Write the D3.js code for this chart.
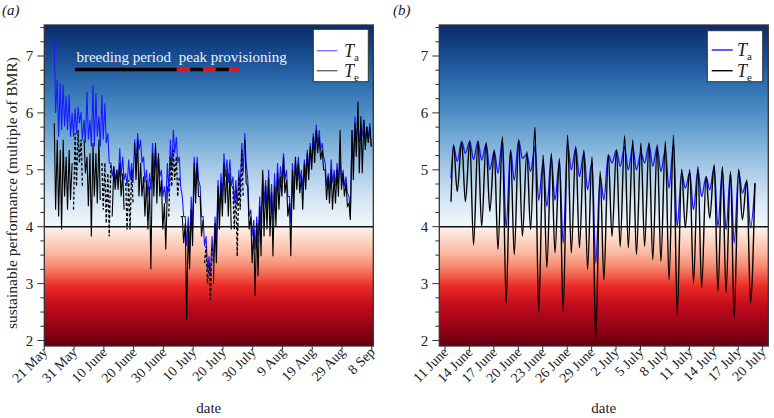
<!DOCTYPE html>
<html><head><meta charset="utf-8">
<script src="https://cdn.jsdelivr.net/npm/d3@7"></script>
<style>
body{margin:0;background:#fff}
svg{display:block}
</style>
</head><body>
<svg id="c" width="774" height="418" font-family="'Liberation Serif','Tinos','Times New Roman','DejaVu Serif',serif"></svg>
<script>
// ---------------- DATA ----------------
const tickLabelsA = ["21 May","31 May","10 June","20 June","30 June","10 July","20 July","30 July","9 Aug","19 Aug","29 Aug","8 Sep"];
const tickLabelsB = ["11 June","14 June","17 June","20 June","23 June","26 June","29 June","2 July","5 July","8 July","11 July","14 July","17 July","20 July"];
const yTickValues = [2,3,4,5,6,7];
const threshold = 4;

// panel (a): daily highs/lows, first value is day 3 after 21 May
const firstDayA = 3;
const taHiA = [7.28,6.58,6.52,6.50,6.29,6.32,6.00,6.08,6.11,6.02,5.88,6.37,5.88,6.49,6.35,5.94,6.32,6.17,5.64,5.12,5.06,5.00,5.38,5.23,4.94,5.18,5.12,5.53,5.64,5.53,5.23,5.00,4.94,5.47,5.41,5.23,
 5.00,4.71,5.12,5.53,5.70,5.58,5.23,4.53,4.18,4.18,4.53,5.23,5.23,4.71,4.18,3.83,3.48,3.83,4.18,4.82,4.94,5.29,5.18,5.18,4.88,4.82,5.00,5.47,5.64,4.82,4.30,4.12,4.18,4.53,4.94,4.82,
 5.00,4.75,4.94,5.12,5.06,5.29,5.00,4.53,5.12,5.18,5.23,5.00,5.18,5.35,5.47,5.64,5.79,5.70,5.47,5.12,4.94,5.18,5.00,5.12,5.18,5.00,4.88,4.53,5.70,5.94,5.82,5.82,5.88,5.76,5.82];
const taLoA = [6.00,5.58,5.70,5.76,5.70,5.58,5.58,5.64,5.82,5.53,5.47,5.53,5.41,5.41,5.58,5.41,5.53,5.47,5.12,4.88,4.82,4.77,4.88,4.82,4.71,4.82,4.77,5.00,5.35,5.12,4.77,4.53,4.65,4.94,5.00,4.88,
 4.53,4.41,4.59,5.00,5.29,5.12,4.71,4.18,3.66,3.60,3.95,4.71,4.82,4.18,3.66,3.25,3.13,3.36,3.71,4.24,4.53,4.88,4.77,4.71,4.41,4.36,4.59,4.94,5.12,4.18,3.83,3.60,3.71,3.95,4.41,4.30,
 4.30,4.10,4.41,4.65,4.77,4.82,4.53,4.06,4.65,4.88,4.82,4.65,4.88,5.00,5.12,5.35,5.47,5.35,5.23,4.71,4.65,4.77,4.71,4.77,4.82,4.71,4.59,4.18,5.12,5.53,5.47,5.58,5.53,5.53,5.41];
const teHiA = [5.82,5.53,5.35,5.53,5.23,5.35,5.12,5.64,5.70,5.53,5.53,5.23,5.29,5.47,5.29,5.53,5.12,5.12,4.94,5.12,5.06,5.00,5.12,4.94,4.77,4.82,5.00,5.47,5.53,5.12,4.88,4.82,4.71,5.29,5.47,5.29,
 4.82,4.41,4.71,5.23,5.35,5.23,4.88,4.18,4.06,4.00,4.30,5.12,5.12,4.53,4.12,3.66,3.36,3.66,4.06,4.71,4.77,5.12,5.00,4.94,4.71,4.65,4.88,5.35,5.53,4.71,4.18,3.95,4.06,4.36,5.00,4.71,
 4.85,4.60,4.71,4.94,4.88,5.23,4.82,4.41,5.00,5.23,5.12,4.88,5.12,5.29,5.41,5.58,5.70,5.58,5.35,5.00,4.88,5.00,4.88,5.00,5.70,4.94,4.77,4.41,5.70,5.82,6.20,5.94,5.88,5.76,5.76];
const teLoA = [4.30,4.18,3.95,4.53,4.30,4.47,4.30,4.71,5.12,4.71,4.94,4.36,3.83,4.53,4.41,4.47,4.30,4.06,3.83,4.18,4.65,4.65,4.53,4.30,3.95,3.95,4.41,4.82,4.53,4.53,4.18,3.95,3.25,4.53,4.41,4.53,
 3.95,3.60,4.18,4.71,4.82,4.53,4.18,3.71,2.37,3.25,3.66,4.41,4.53,3.83,3.36,3.00,2.72,3.00,3.36,3.95,4.18,4.41,4.18,3.95,3.95,3.48,4.30,4.53,4.77,3.95,3.36,2.78,3.13,3.48,3.83,3.95,
 3.83,3.48,4.01,4.30,4.53,4.59,4.18,3.48,4.30,4.65,4.59,4.30,4.65,4.82,5.00,5.12,5.29,5.18,5.00,4.47,4.41,4.30,4.41,4.53,4.65,4.53,4.36,4.12,4.82,5.23,4.94,4.94,5.35,5.47,5.41];
// spans (days after 21 May) where the T_e record is broken
const teGapsA = [[9.7,13.1],[19.3,22.6],[27.0,30.0],[41.6,45.5],[53.8,56.6],[63.3,67.0]];
// breeding period bar: day offsets after 21 May and phase of each piece
const periodBreaks = [10.3,44.5,49.0,53.3,57.6,62.0,65.3];
const periodKinds = ["breeding","peak","breeding","peak","breeding","peak"];

// panel (b): daily peaks (k+0.05) and troughs (k+0.5), days after 11 June
const startB = {t:0.74, ta:4.85, te:4.44};
const teHiB = [5.44,5.50,5.51,5.51,5.48,5.35,5.58,5.35,5.53,5.32,5.75,5.26,5.29,5.20,5.61,5.41,5.35,5.23,4.97,5.26,5.35,5.60,5.53,5.47,5.48,5.44,5.50,5.61,5.01,5.00,5.06,4.88,5.09,5.06,4.97,5.01,4.82,4.77];
const teLoB = [4.62,4.44,3.68,4.00,4.27,3.60,2.66,3.51,3.83,3.95,2.49,3.28,3.54,2.51,3.54,3.63,3.25,2.02,3.07,3.83,3.65,3.63,3.51,3.65,3.42,3.39,3.07,2.44,3.98,3.01,2.92,4.15,2.87,2.84,2.40,4.12,2.66];
const taHiB = [5.42,5.50,5.50,5.50,5.45,5.33,5.52,5.35,5.52,5.28,5.40,5.15,5.22,5.15,5.45,5.38,5.30,5.15,4.90,5.26,5.35,5.40,5.40,5.30,5.45,5.40,5.35,5.45,4.95,4.95,5.00,4.88,5.05,5.00,4.95,4.98,4.80,4.75];
const taLoB = [5.15,5.29,5.18,5.17,5.00,4.94,3.98,4.82,5.20,4.97,4.47,4.36,4.47,3.71,5.00,4.88,4.65,3.36,4.47,5.12,5.06,5.00,5.00,5.12,5.06,4.97,4.68,4.00,4.68,4.30,4.53,4.65,4.00,3.95,3.71,4.59,3.98];

// ---------------- CHART ----------------
const svg = d3.select("#c");
const DAY = 864e5;
const t0A = Date.UTC(2015,4,21), t0B = Date.UTC(2015,5,11);
const y = d3.scaleLinear().domain([2,7]).range([340.5,56]);
const frameTop = 25, frameBot = 346;
const blueStops = [[7.544,"#0a2b6b"],[7,"#184d92"],[6.5,"#2f6fb0"],[6,"#4f8fc6"],[5.5,"#7aaed7"],[5,"#a9cbe7"],[4.5,"#d3e5f3"],[4,"#f2f7fc"]];
const redStops = [[4,"#fff3ee"],[3.54,"#fbb9a0"],[3.3,"#f78a6e"],[2.95,"#ea2a25"],[2.6,"#c00a1c"],[2.14,"#8a0014"],[1.9,"#5e0010"]];

const defs = svg.append("defs");
function grad(id, stops, v0, v1){
  const g = defs.append("linearGradient").attr("id",id).attr("gradientUnits","userSpaceOnUse")
    .attr("x1",0).attr("x2",0).attr("y1",y(v0)).attr("y2",y(v1));
  stops.map(([v,c])=>({o:(y(v)-y(v0))/(y(v1)-y(v0)), c}))
    .sort((a,b)=>a.o-b.o)
    .forEach(s=> g.append("stop").attr("offset",s.o).attr("stop-color",s.c));
}
grad("gBlue", blueStops, 7.544, 4);
grad("gRed", redStops, 4, 1.9);

function panel(opt){
  const g = svg.append("g");
  const x = d3.scaleUtc().domain(opt.domain).range(opt.range);
  const L = opt.frame[0], R = opt.frame[1];
  const clipId = "clip"+opt.id;
  defs.append("clipPath").attr("id",clipId).append("rect").attr("x",L).attr("y",frameTop).attr("width",R-L).attr("height",frameBot-frameTop);
  g.append("rect").attr("x",L).attr("y",frameTop).attr("width",R-L).attr("height",y(threshold)-frameTop).attr("fill","url(#gBlue)");
  g.append("rect").attr("x",L).attr("y",y(threshold)).attr("width",R-L).attr("height",frameBot-y(threshold)).attr("fill","url(#gRed)");
  const plot = g.append("g").attr("clip-path",`url(#${clipId})`);
  // y axis ticks
  const minors = d3.range(1.75,7.6,0.25).filter(v=> y(v)>=frameTop-0.5 && y(v)<=frameBot+0.5);
  minors.forEach(v=>{
    const major = Math.abs(v-Math.round(v))<1e-6 && yTickValues.includes(Math.round(v));
    g.append("line").attr("x1",L-(major?7:4)).attr("x2",L).attr("y1",y(v)).attr("y2",y(v)).attr("stroke","#333").attr("stroke-width",1);
  });
  yTickValues.forEach(v=> g.append("text").attr("x",L-11).attr("y",y(v)+5).attr("text-anchor","end").attr("font-size",15).attr("fill","#222").text(v));
  // x axis ticks
  opt.tickDates.forEach((d,i)=>{
    const px = x(d);
    g.append("line").attr("x1",px).attr("x2",px).attr("y1",frameBot).attr("y2",frameBot+4).attr("stroke","#333");
    g.append("text").attr("transform",`translate(${px+4},${frameBot+7}) rotate(-45)`).attr("text-anchor","end")
      .attr("font-size",14).attr("fill","#222").text(opt.tickLabels[i]);
  });
  g.append("text").attr("x",(L+R)/2).attr("y",413).attr("text-anchor","middle").attr("font-size",15).attr("fill","#222").text("date");
  return {g, plot, x, L, R};
}
function finish(P){
  P.g.append("line").attr("x1",P.L).attr("x2",P.R).attr("y1",y(threshold)).attr("y2",y(threshold)).attr("stroke","#111").attr("stroke-width",1.5);
  P.g.append("rect").attr("x",P.L).attr("y",frameTop).attr("width",P.R-P.L).attr("height",frameBot-frameTop).attr("fill","none").attr("stroke","#333").attr("stroke-width",1.3);
}

// ----- panel a -----
const tickDatesA = tickLabelsA.map((_,i)=> new Date(t0A + i*10*DAY));
const A = panel({id:"A", domain:[new Date(t0A), new Date(t0A+110*DAY)], range:[44.3,371.8], frame:[44.3,373.3],
  tickDates:tickDatesA, tickLabels:tickLabelsA});
const ptsA = [];
taHiA.forEach((_,i)=>{
  const d = firstDayA + i;
  ptsA.push({t:d+0.35, ta:taHiA[i], te:teHiA[i]});
  ptsA.push({t:d+0.8, ta:taLoA[i], te:teLoA[i]});
});
const xtA = t => A.x(new Date(t0A + t*DAY));
const inGap = t => teGapsA.some(([a,b])=> t>=a && t<=b);
A.plot.append("path").attr("d", d3.line().x(p=>xtA(p.t)).y(p=>y(p.ta))(ptsA))
  .attr("fill","none").attr("stroke","#1a1aff").attr("stroke-width",1.1);
A.plot.append("path").attr("d", d3.line().defined(p=>!inGap(p.t)).x(p=>xtA(p.t)).y(p=>y(p.te))(ptsA))
  .attr("fill","none").attr("stroke","#000").attr("stroke-width",1.1);
A.plot.append("path").attr("d", d3.line().defined(p=>inGap(p.t)).x(p=>xtA(p.t)).y(p=>y(p.te))(ptsA))
  .attr("fill","none").attr("stroke","#000").attr("stroke-width",1.3).attr("stroke-dasharray","3,2");
finish(A);
// breeding period annotation
const barY = 69.5;
periodKinds.forEach((k,i)=>{
  A.g.append("line").attr("x1",xtA(periodBreaks[i])).attr("x2",xtA(periodBreaks[i+1])).attr("y1",barY).attr("y2",barY)
    .attr("stroke", k==="peak" ? "#e8101c" : "#000").attr("stroke-width",3.5);
});
A.g.append("text").attr("x",xtA(periodBreaks[0])+1.5).attr("y",62).attr("font-size",15).attr("fill","#f2f2f2").text("breeding period");
A.g.append("text").attr("x",xtA(periodBreaks[1])+2).attr("y",62).attr("font-size",15).attr("fill","#f2f2f2").text("peak provisioning");

// ----- panel b -----
const tickDatesB = tickLabelsB.map((_,i)=> new Date(t0B + i*3*DAY));
const B = panel({id:"B", domain:[new Date(t0B), new Date(t0B+39*DAY)], range:[445,762.7], frame:[439.3,768.3],
  tickDates:tickDatesB, tickLabels:tickLabelsB});
const ptsB = [startB];
teHiB.forEach((_,i)=>{
  const k = i+1;
  ptsB.push({t:k+0.05, ta:taHiB[i], te:teHiB[i]});
  if (i < teLoB.length) ptsB.push({t:k+0.5, ta:taLoB[i], te:teLoB[i]});
});
const xtB = t => B.x(new Date(t0B + t*DAY));
B.plot.append("path").attr("d", d3.line().curve(d3.curveMonotoneX).x(p=>xtB(p.t)).y(p=>y(p.ta))(ptsB))
  .attr("fill","none").attr("stroke","#1a1aff").attr("stroke-width",1.4);
B.plot.append("path").attr("d", d3.line().curve(d3.curveMonotoneX).x(p=>xtB(p.t)).y(p=>y(p.te))(ptsB))
  .attr("fill","none").attr("stroke","#000").attr("stroke-width",1.4);
finish(B);

// y label and panel letters
svg.append("text").attr("transform","translate(17,193) rotate(-90)").attr("text-anchor","middle").attr("font-size",15.5).attr("fill","#222")
  .text("sustainable performance (multiple of BMR)");
svg.append("text").attr("x",2).attr("y",15).attr("font-size",15).attr("font-style","italic").attr("fill","#222").text("(a)");
svg.append("text").attr("x",393).attr("y",15).attr("font-size",15).attr("font-style","italic").attr("fill","#222").text("(b)");

// legends
function legend(bx, by, bw, bh, lx1, lx2, rows, tx, op){
  svg.append("rect").attr("x",bx).attr("y",by).attr("width",bw).attr("height",bh).attr("fill","#fff").attr("stroke","#333").attr("stroke-width",1);
  rows.forEach(r=>{
    svg.append("line").attr("x1",lx1).attr("x2",lx2).attr("y1",r.y).attr("y2",r.y).attr("stroke",r.c).attr("stroke-width",1.4).attr("stroke-opacity",op);
    const t = svg.append("text").attr("x",tx).attr("y",r.y+6).attr("font-size",18).attr("fill","#222");
    t.append("tspan").attr("font-style","italic").text("T");
    t.append("tspan").attr("font-size",11).attr("dy",4).text(r.sub);
  });
}
legend(313.3,29.3,55,52.4,316.7,337.3,[{y:50.7,c:"#1a1aff",sub:"a"},{y:70.7,c:"#000",sub:"e"}],344,0.6);
legend(707.3,30.7,55.4,51,711.7,732.7,[{y:50,c:"#1a1aff",sub:"a"},{y:70.7,c:"#000",sub:"e"}],737,1);
</script>
</body></html>
